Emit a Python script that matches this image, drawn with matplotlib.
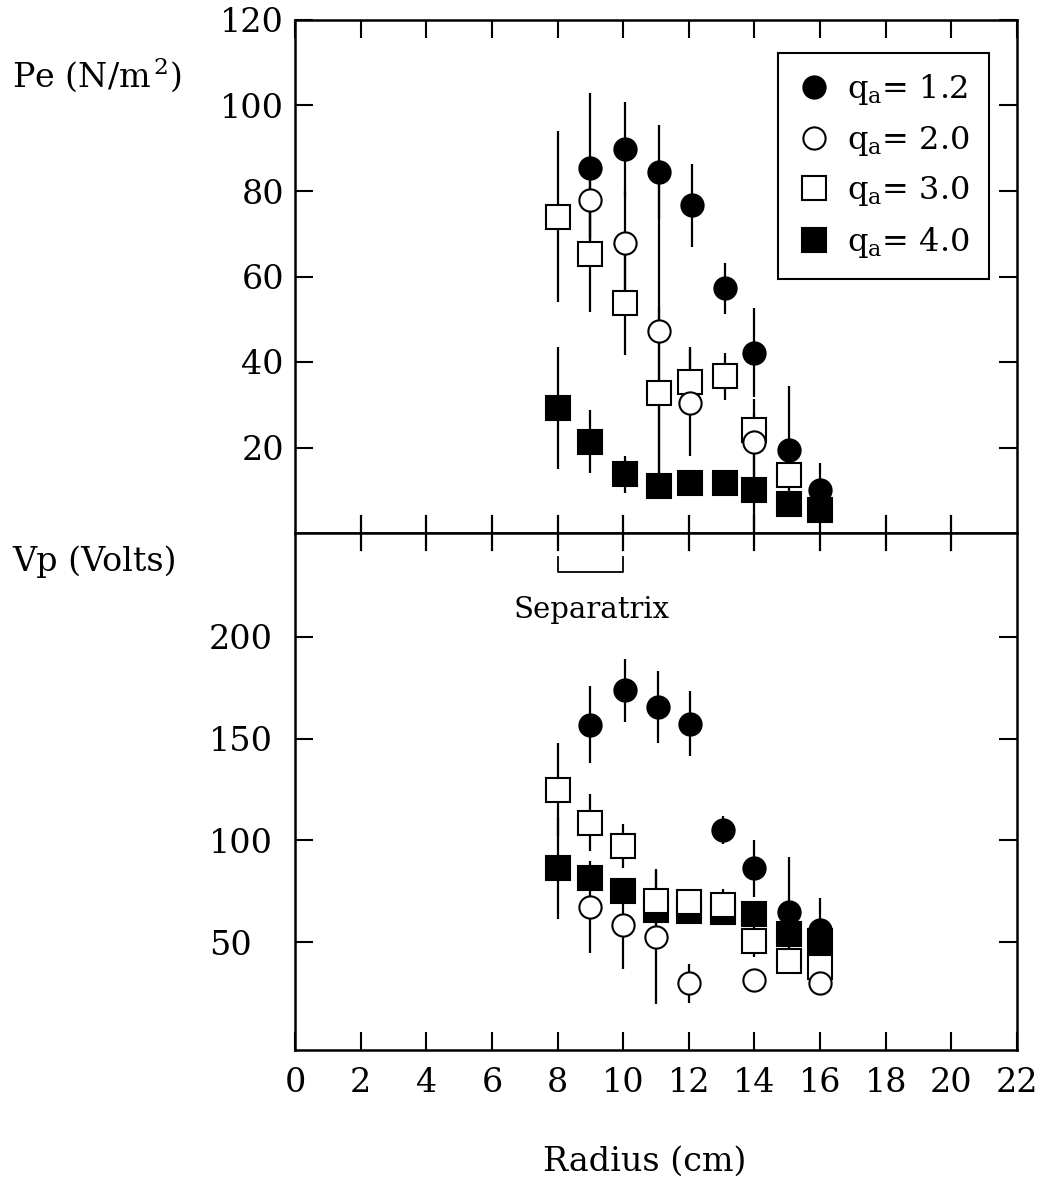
import matplotlib
matplotlib.use("Agg")
import matplotlib.pyplot as plt
from matplotlib.lines import Line2D

plt.rcParams["font.family"] = ["DejaVu Serif"]
plt.rcParams["mathtext.fontset"] = "dejavuserif"

# ---- electron pressure Pe (N/m^2) vs radius (cm) ----
pe_q12_r = [9, 10.05, 11.1, 12.1, 13.1, 14, 15.05, 16]
pe_q12 = [85.4, 89.8, 84.5, 76.7, 57.2, 42.2, 19.3, 10.0]
pe_q12_err = [17.5, 11, 11, 9.7, 6, 10.4, 15, 6.4]

pe_q20_r = [9, 10.05, 11.1, 12.05, 14]
pe_q20 = [78.0, 67.9, 47.2, 30.5, 21.4]
pe_q20_err = [9, 12, 35, 12.6, 10]

pe_q30_r = [8, 9, 10.05, 11.1, 12.05, 13.1, 14, 15.05]
pe_q30 = [74.0, 65.2, 53.9, 32.8, 35.4, 36.7, 24.1, 13.6]
pe_q30_err = [20, 13.4, 12.3, 20, 8, 5.5, 4, 3]

pe_q40_r = [8, 9, 10.05, 11.1, 12.05, 13.1, 14, 15.05, 16]
pe_q40 = [29.3, 21.4, 13.7, 11.0, 11.6, 11.6, 10.1, 6.8, 5.4]
pe_q40_err = [14.3, 7.3, 4.3, 1.5, 1.5, 2, 10, 1.5, 1.5]

# ---- plasma potential Vp (Volts) vs radius (cm) ----
vp_q12_r = [9, 10.05, 11.05, 12.05, 13.05, 14, 15.05, 16]
vp_q12 = [156.9, 173.8, 165.5, 157.2, 105.1, 86.2, 64.6, 55.8]
vp_q12_err = [19, 15.5, 17.5, 16, 7, 14, 27, 16]

vp_q20_r = [9, 10, 11, 12, 14, 16]
vp_q20 = [67.3, 58.6, 52.4, 29.8, 31.5, 29.8]
vp_q20_err = [22.6, 22, 33, 9.5, 4, 3]

vp_q30_r = [8, 9, 10, 11, 12, 13.05, 14, 15.05, 16]
vp_q30 = [124.9, 108.7, 97.2, 70.0, 69.5, 68.3, 50.5, 40.8, 37.9]
vp_q30_err = [23, 14, 10.7, 16, 3, 8, 8, 3, 3]

vp_q40_r = [8, 9, 10, 11, 12, 13.05, 14, 15.05, 16]
vp_q40 = [86.4, 81.6, 75.1, 66.0, 65.5, 65.0, 63.7, 54.0, 50.5]
vp_q40_err = [25, 5, 5, 2, 2, 2, 4, 3, 3]

q_labels = ["1.2", "2.0", "3.0", "4.0"]
separatrix = (8, 10)

x_ticks = list(range(0, 23, 2))
pe_ticks = [20, 40, 60, 80, 100, 120]
vp_ticks = [50, 100, 150, 200]

styles = [
    dict(marker="o", mfc="black", ms=16, z=6),
    dict(marker="o", mfc="white", ms=16, z=5),
    dict(marker="s", mfc="white", ms=17, z=4),
    dict(marker="s", mfc="black", ms=17, z=3),
]

W, H = 1040, 1193
fig = plt.figure(figsize=(W / 100, H / 100), dpi=100)
left, right = 295, 1017
ax1 = fig.add_axes([left / W, 1 - 533 / H, (right - left) / W, (533 - 20) / H])
ax2 = fig.add_axes([left / W, 1 - 1050 / H, (right - left) / W, (1050 - 533) / H])

def draw(ax, series):
    for (r, v, e), st in zip(series, styles):
        ax.errorbar(r, v, yerr=e, fmt="none", ecolor="black",
                    elinewidth=1.6, capsize=0, zorder=2)
    for (r, v, e), st in zip(series, styles):
        ax.plot(r, v, ls="none", marker=st["marker"], ms=st["ms"],
                mfc=st["mfc"], mec="black", mew=1.5, zorder=st["z"])

draw(ax1, [(pe_q12_r, pe_q12, pe_q12_err), (pe_q20_r, pe_q20, pe_q20_err),
           (pe_q30_r, pe_q30, pe_q30_err), (pe_q40_r, pe_q40, pe_q40_err)])
draw(ax2, [(vp_q12_r, vp_q12, vp_q12_err), (vp_q20_r, vp_q20, vp_q20_err),
           (vp_q30_r, vp_q30, vp_q30_err), (vp_q40_r, vp_q40, vp_q40_err)])

for ax in (ax1, ax2):
    ax.set_xlim(0, 22)
    ax.set_xticks(x_ticks)
    for s in ax.spines.values():
        s.set_linewidth(1.8)
    ax.tick_params(which="both", direction="in", length=13, width=1.5,
                   labelsize=24, top=True, right=True)

ax1.set_ylim(0, 120)
ax1.set_yticks(pe_ticks)
ax1.tick_params(axis="x", labelbottom=False)
ax1.tick_params(axis="x", which="major", bottom=False)
ax1.tick_params(axis="y", pad=8)

ax2.set_ylim(-3, 251)
ax2.set_yticks(vp_ticks)
ax2.tick_params(axis="x", pad=12)
ax2.tick_params(axis="y", pad=62)
for lbl in ax2.get_yticklabels():
    lbl.set_horizontalalignment("left")
# ticks crossing the shared middle line
ax2.tick_params(axis="x", which="major", top=False)
for xt in x_ticks[1:-1]:
    ax2.plot([xt, xt], [251 - 8.3, 251 + 8.3], color="black", lw=1.6,
             clip_on=False, zorder=7)

# separatrix bracket
sx0, sx1 = separatrix
ax2.plot([sx0, sx0, sx1, sx1], [239, 232, 232, 239], color="black", lw=1.3,
         clip_on=False)
ax2.text((sx0 + sx1) / 2 + 0.05, 213, "Separatrix", ha="center", va="center",
         fontsize=21)

handles = [Line2D([], [], ls="none", marker=st["marker"], ms=st["ms"],
                  mfc=st["mfc"], mec="black", mew=1.5) for st in styles]
labels = [r"q$_{\mathrm{a}}$= " + q for q in q_labels]
leg = ax1.legend(handles, labels, loc="upper right",
                 bbox_to_anchor=((989 - left) / (right - left), 1 - 33 / 513),
                 borderaxespad=0, fontsize=23, frameon=True, fancybox=False,
                 edgecolor="black", framealpha=1, handlelength=1.0,
                 handletextpad=0.55, labelspacing=0.52, borderpad=0.6)
leg.get_frame().set_linewidth(1.5)

fig.text(12 / W, 1 - 75 / H, r"Pe (N/m$^{\,2}$)", fontsize=24, ha="left", va="center")
fig.text(12 / W, 1 - 562 / H, "Vp (Volts)", fontsize=24, ha="left", va="center")
fig.text(645 / W, 1 - 1162 / H, "Radius (cm)", fontsize=24, ha="center", va="center")

fig.savefig("out.png", dpi=100, facecolor="white")
